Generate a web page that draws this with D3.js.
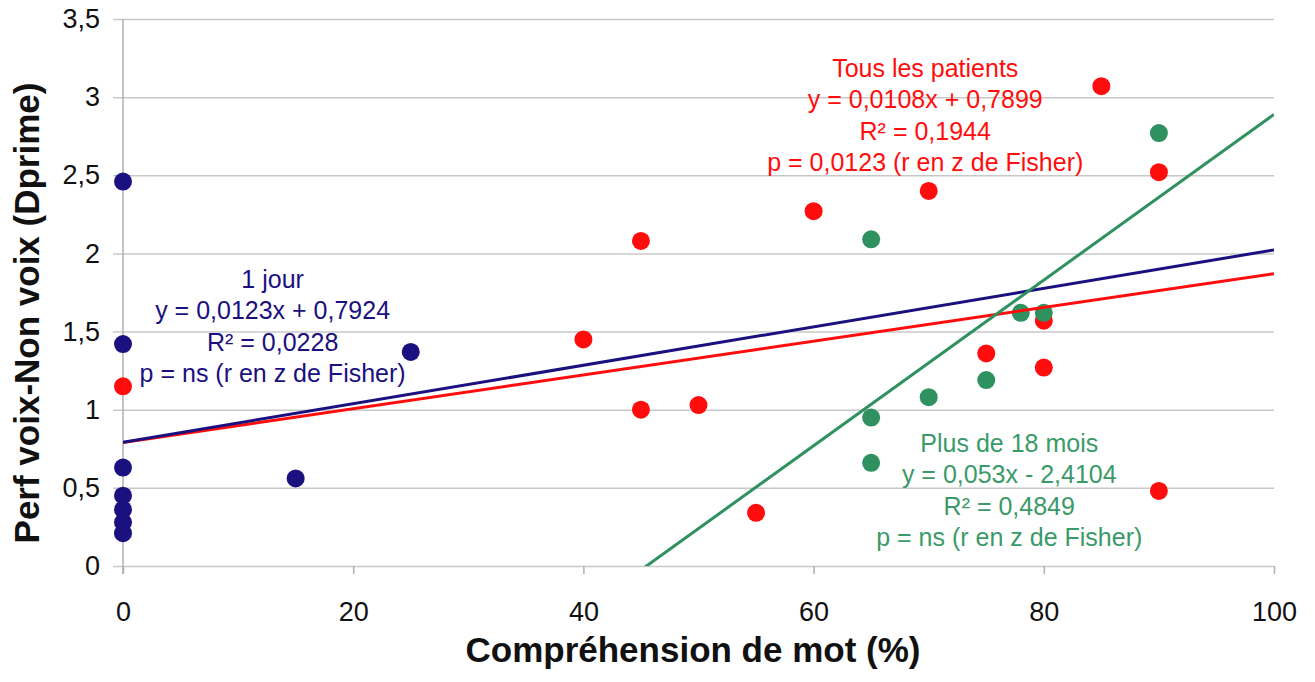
<!DOCTYPE html>
<html>
<head>
<meta charset="utf-8">
<script src="https://cdn.jsdelivr.net/npm/d3@7"></script>
<style>
  body { margin: 0; background: #fff; }
  svg { display: block; font-family: "Liberation Sans", Arial, sans-serif; }
</style>
</head>
<body>
<div id="chart"></div>
<script>
// Data
const joursX = [0, 0, 0, 0, 0, 0, 0, 15, 25]
const joursY = [2.46, 1.42, 0.63, 0.45, 0.36, 0.28, 0.21, 0.56, 1.37]

const tousX = [0, 40, 45, 45, 50, 55, 60, 70, 75, 80, 80, 85, 90, 90]
const tousY = [1.15, 1.45, 2.08, 1.0, 1.03, 0.34, 2.27, 2.4, 1.36, 1.57, 1.27, 3.07, 2.52, 0.48]

const moisX = [65, 65, 65, 70, 75, 78, 80, 90]
const moisY = [2.09, 0.95, 0.66, 1.08, 1.19, 1.62, 1.62, 2.77]

// Trendlines: [1 jour, Tous les patients, Plus de 18 mois]
const trendSlopes = [0.0123, 0.0108, 0.053]
const trendIntercepts = [0.7924, 0.7899, -2.4104]

const xTicks = [0, 20, 40, 60, 80, 100]
const yTicks = [0, 0.5, 1, 1.5, 2, 2.5, 3, 3.5]

const joursLabel = ["1 jour", "y = 0,0123x + 0,7924", "R² = 0,0228", "p = ns (r en z de Fisher)"]
const tousLabel = ["Tous les patients", "y = 0,0108x + 0,7899", "R² = 0,1944", "p = 0,0123 (r en z de Fisher)"]
const moisLabel = ["Plus de 18 mois", "y = 0,053x - 2,4104", "R² = 0,4849", "p = ns (r en z de Fisher)"]

const colors = { jours: "#1b1080", tous: "#ff0d0d", mois: "#2f9160" }

const W = 1315, H = 682
const margin = { top: 19, right: 41, bottom: 116, left: 123 }
const width = W - margin.left - margin.right
const height = H - margin.top - margin.bottom

const svg = d3.select("#chart").append("svg")
  .attr("width", W)
  .attr("height", H)

const g = svg.append("g")
  .attr("transform", `translate(${margin.left},${margin.top})`)

const x = d3.scaleLinear().domain([0, 100]).range([0, width])
const y = d3.scaleLinear().domain([0, 3.5]).range([height, 0])

// Horizontal grid lines (extend 10px left as tick marks)
g.append("g")
  .attr("class", "grid")
  .attr("transform", `translate(${width},0)`)
  .call(d3.axisLeft(y).tickValues(yTicks).tickSize(width + 10).tickFormat(""))
  .call(s => s.select(".domain").remove())
  .call(s => s.selectAll("line").attr("stroke", "#c8c8c8").attr("stroke-width", 1.5))

// Y labels
g.append("g")
  .call(d3.axisLeft(y).tickValues(yTicks).tickSize(0).tickPadding(23)
    .tickFormat(d => String(d).replace(".", ",")))
  .call(s => s.select(".domain").remove())
  .call(s => s.selectAll("text").attr("font-size", 27).attr("fill", "#111")
    .attr("font-family", "Liberation Sans, Arial, sans-serif"))

// X axis
g.append("g")
  .attr("transform", `translate(0,${height})`)
  .call(d3.axisBottom(x).tickValues(xTicks).tickSize(8).tickPadding(28))
  .call(s => s.select(".domain").remove())
  .call(s => s.selectAll("line").attr("stroke", "#b0b0b0").attr("stroke-width", 1.5))
  .call(s => s.selectAll("text").attr("font-size", 27).attr("fill", "#111")
    .attr("font-family", "Liberation Sans, Arial, sans-serif"))

// Y axis line (down to tick length)
g.append("line")
  .attr("x1", x(0)).attr("x2", x(0))
  .attr("y1", 0).attr("y2", height + 8)
  .attr("stroke", "#b0b0b0").attr("stroke-width", 1.5)

// Clip for trendlines
g.append("clipPath").attr("id", "plot-clip")
  .append("rect").attr("width", width).attr("height", height)

// Points
const series = [
  { xs: tousX, ys: tousY, color: colors.tous },
  { xs: joursX, ys: joursY, color: colors.jours },
  { xs: moisX, ys: moisY, color: colors.mois }
]

series.forEach(s => {
  g.append("g").selectAll("circle")
    .data(s.xs.map((d, i) => [d, s.ys[i]]))
    .enter()
    .append("circle")
    .attr("cx", d => x(d[0]))
    .attr("cy", d => y(d[1]))
    .attr("r", 9)
    .attr("fill", s.color)
})

// Trendlines: red first, then blue, then green
const trendOrder = [1, 0, 2]
const trendColors = [colors.jours, colors.tous, colors.mois]
const lines = g.append("g").attr("clip-path", "url(#plot-clip)")
trendOrder.forEach(i => {
  lines.append("line")
    .attr("x1", x(0)).attr("y1", y(trendIntercepts[i]))
    .attr("x2", x(100)).attr("y2", y(trendSlopes[i] * 100 + trendIntercepts[i]))
    .attr("stroke", trendColors[i])
    .attr("stroke-width", 3)
})

// Annotations (anchor in data coordinates)
function annotate(lines, cx, cy, color) {
  const t = g.append("text")
    .attr("text-anchor", "middle")
    .attr("font-size", 25)
    .attr("fill", color)
  lines.forEach((l, i) => {
    t.append("tspan")
      .attr("x", x(cx))
      .attr("y", y(cy) + i * 31.5)
      .text(l)
  })
}
annotate(joursLabel, 13.0, 1.78, colors.jours)
annotate(tousLabel, 69.7, 3.13, colors.tous)
annotate(moisLabel, 77.0, 0.73, "#3a9a68")

// Axis titles
svg.append("text")
  .attr("x", 693)
  .attr("y", 662)
  .attr("text-anchor", "middle")
  .attr("font-size", 35)
  .attr("font-weight", "bold")
  .attr("fill", "#111")
  .text("Compréhension de mot (%)")

svg.append("text")
  .attr("transform", "translate(39,313) rotate(-90)")
  .attr("text-anchor", "middle")
  .attr("font-size", 35)
  .attr("font-weight", "bold")
  .attr("fill", "#111")
  .text("Perf voix-Non voix (Dprime)")
</script>
</body>
</html>
